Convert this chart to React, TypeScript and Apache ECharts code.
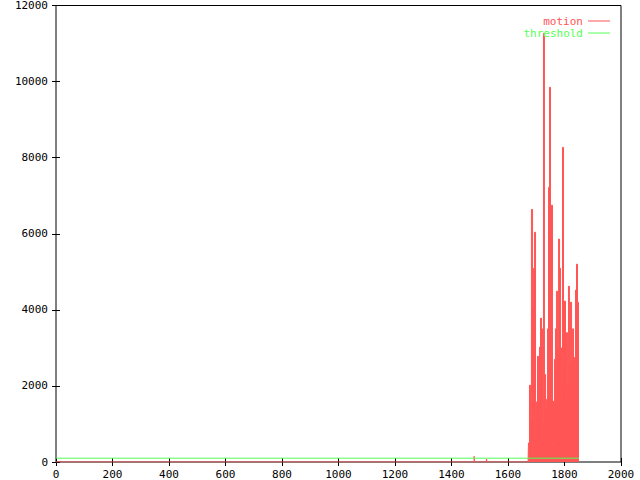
import React, { useEffect, useRef } from "react";
import * as echarts from "echarts";

// motion series: frame index and motion value
const motionX = [
  0, 1477, 1479, 1481, 1483, 1523, 1525, 1527, 1671,
  1674, 1678, 1681, 1685, 1689, 1692, 1696, 1699, 1703, 1706,
  1710, 1713, 1717, 1720, 1724, 1727, 1731, 1735, 1738, 1742,
  1745, 1749, 1752, 1756, 1759, 1763, 1766, 1770, 1773, 1777,
  1781, 1784, 1788, 1791, 1795, 1798, 1802, 1805, 1809, 1812,
  1816, 1819, 1823, 1827, 1830, 1834, 1837, 1841, 1844, 1848, 1851,
];
const motionY = [
  0, 0, 0, 150, 0, 0, 80, 0, 0,
  500, 2020, 1080, 6640, 4070, 5090, 6040, 580, 1580, 2780,
  1630, 3020, 3780, 3500, 1100, 11270, 2300, 1420, 1650, 3500,
  7220, 9850, 2700, 6750, 450, 1600, 2700, 3500, 4490, 3000,
  5860, 5090, 3000, 1500, 8270, 2500, 4230, 1050, 3400, 2000,
  4620, 2650, 4200, 2700, 3500, 2700, 2750, 4520, 5200, 4200, 0,
];
const thresholdX = [0, 1851];
const thresholdY = [100, 100];
const xTicks = { min: 0, max: 2000, interval: 200 };
const yTicks = { min: 0, max: 12000, interval: 2000 };

const RED = "#ff5555";
const GREEN = "#55ff55";
const FONT = "DejaVu Sans Mono";
const LINE_ICON = "path://M0,0L22,0L22,1L0,1Z";

export default function App() {
  const ref = useRef<HTMLDivElement>(null);
  useEffect(() => {
    if (!ref.current) return;
    const chart = echarts.init(ref.current, null, { renderer: "svg" });
    const tickStyle = { show: true, inside: true, length: 4, lineStyle: { color: "#000" } };
    const fmt = (v: number) => String(v);
    chart.setOption({
      animation: false,
      backgroundColor: "#fff",
      grid: {
        left: 56, right: 19, top: 5, bottom: 18,
        show: true, borderColor: "#000", borderWidth: 1, backgroundColor: "transparent",
      },
      legend: {
        orient: "vertical",
        right: 30,
        top: 15,
        align: "right",
        padding: 0,
        itemGap: 0,
        itemWidth: 22,
        itemHeight: 1,
        textStyle: { fontFamily: FONT, fontSize: 11, lineHeight: 12 },
        data: [
          { name: "motion", icon: LINE_ICON, itemStyle: { color: RED }, textStyle: { color: RED } },
          { name: "threshold", icon: LINE_ICON, itemStyle: { color: GREEN }, textStyle: { color: GREEN } },
        ],
      },
      xAxis: [
        {
          type: "value", ...xTicks, position: "bottom",
          axisLine: { show: false }, splitLine: { show: false },
          axisTick: tickStyle,
          axisLabel: { color: "#000", fontFamily: FONT, fontSize: 11, margin: 7, formatter: fmt },
        },
        {
          type: "value", ...xTicks, position: "top",
          axisLine: { show: false }, splitLine: { show: false },
          axisTick: tickStyle, axisLabel: { show: false },
        },
      ],
      yAxis: [
        {
          type: "value", ...yTicks, position: "left",
          axisLine: { show: false }, splitLine: { show: false },
          axisTick: tickStyle,
          axisLabel: { color: "#000", fontFamily: FONT, fontSize: 11, margin: 8, formatter: fmt },
        },
        {
          type: "value", ...yTicks, position: "right",
          axisLine: { show: false }, splitLine: { show: false },
          axisTick: tickStyle, axisLabel: { show: false },
        },
      ],
      series: [
        {
          name: "motion",
          type: "line",
          step: "middle",
          symbol: "none",
          color: RED,
          lineStyle: { color: RED, width: 1 },
          areaStyle: { color: RED, opacity: 1 },
          data: motionX.map((x, i) => [x, motionY[i]]),
          z: 3,
        },
        {
          name: "threshold",
          type: "line",
          symbol: "none",
          color: GREEN,
          lineStyle: { color: GREEN, width: 1 },
          data: thresholdX.map((x, i) => [x, thresholdY[i]]),
          z: 4,
        },
      ],
    });
    return () => chart.dispose();
  }, []);
  return <div ref={ref} style={{ width: 640, height: 480, position: "absolute", left: 0, top: 0 }} />;
}
